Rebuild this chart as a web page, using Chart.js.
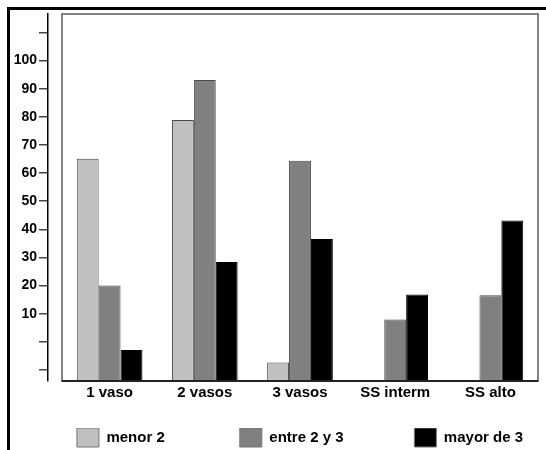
<!DOCTYPE html>
<html>
<head>
<meta charset="utf-8">
<script src="https://cdn.jsdelivr.net/npm/chart.js@4.4.0/dist/chart.umd.min.js"></script>
<style>
  html, body { margin: 0; padding: 0; background: #fff; }
  #wrap { position: relative; width: 546px; height: 450px; }
  #chart { display: block; }
  #frame {
    position: absolute; left: 7px; top: 7px; right: 0; bottom: 0;
    border-left: 3px solid #000; border-top: 3px solid #000;
    pointer-events: none;
  }
</style>
</head>
<body>
<div id="wrap">
  <canvas id="chart" width="546" height="450"></canvas>
  <div id="frame"></div>
</div>
<script>
/* global Chart */
// bar heights, measured from the baseline of the plot box
const categories = ["1 vaso", "2 vasos", "3 vasos", "SS interm", "SS alto"];
const seriesNames = ["menor 2", "entre 2 y 3", "mayor de 3"];
const menor2 = [79, 92.8, 6.6, null, null];
const entre2y3 = [34, 107, 78.3, 21.9, 30.5];
const mayor3 = [11, 42.3, 50.5, 30.8, 57.1];

// the left axis is drawn on its own, slightly off the bars
const tickValues = [-10, 0, 10, 20, 30, 40, 50, 60, 70, 80, 90, 100, 110];
const tickLabels = ["", "", "10", "20", "30", "40", "50", "60", "70", "80", "90", "100", ""];

const colors = ["#c0c0c0", "#808080", "#000000"];
const legendPad = [18, 17, 0]; // extra spaces after each legend text

const boldFont = (size) => ({ family: "'Liberation Sans', Arial, sans-serif", size: size, weight: "bold" });

const plotFrame = {
  id: "plotFrame",
  afterDatasetsDraw(chart) {
    const { ctx, chartArea: a } = chart;
    ctx.save();
    ctx.strokeStyle = "#808080";
    ctx.lineWidth = 2;
    ctx.strokeRect(a.left, a.top, a.right - a.left, a.bottom - a.top);
    ctx.strokeStyle = "#222";
    ctx.beginPath();
    ctx.moveTo(a.left, a.bottom);
    ctx.lineTo(a.right, a.bottom);
    ctx.stroke();
    ctx.restore();
  },
};

const datasets = [menor2, entre2y3, mayor3].map((values, i) => ({
  label: seriesNames[i],
  data: values,
  yAxisID: "y",
  backgroundColor: colors[i],
  borderColor: i === 2 ? "#000" : "#4a4a4a",
  borderWidth: 1,
  barPercentage: 1.0,
  categoryPercentage: 0.69,
}));

new Chart(document.getElementById("chart"), {
  type: "bar",
  data: { labels: categories, datasets: datasets },
  plugins: [plotFrame],
  options: {
    responsive: false,
    animation: false,
    devicePixelRatio: 1,
    layout: { padding: { top: 14, right: 8, left: 0, bottom: -7 } },
    scales: {
      x: {
        grid: { display: false, drawTicks: false },
        border: { display: false },
        ticks: { color: "#000", font: boldFont(15), padding: 3 },
        afterFit: (scale) => { scale.height = 47; },
      },
      y: {
        position: "left",
        weight: 0,
        min: 0,
        max: 130.5,
        grid: { display: false, drawTicks: false },
        border: { display: false },
        ticks: { display: false },
        afterFit: (scale) => { scale.width = 14; },
      },
      yTicks: {
        position: "left",
        weight: 1,
        min: -13.92,
        max: 116.54,
        afterBuildTicks: (scale) => {
          scale.ticks = tickValues.map((v) => ({ value: v }));
        },
        grid: {
          drawOnChartArea: false,
          drawTicks: true,
          tickLength: 9,
          color: "#444",
          lineWidth: 1.5,
        },
        border: { display: true, color: "#000", width: 1.5 },
        ticks: {
          color: "#000",
          font: boldFont(14),
          padding: 2,
          autoSkip: false,
          callback: (value) => tickLabels[tickValues.indexOf(value)],
        },
        afterFit: (scale) => { scale.width = 48; },
      },
    },
    plugins: {
      legend: {
        position: "bottom",
        fullSize: false,
        labels: {
          color: "#000",
          font: boldFont(15),
          boxWidth: 22,
          boxHeight: 19,
          padding: 0,
          generateLabels: (chart) =>
            Chart.defaults.plugins.legend.labels.generateLabels(chart).map((item, i) => ({
              ...item,
              text: item.text + " ".repeat(legendPad[i]),
              strokeStyle: "#777",
              lineWidth: 1,
            })),
        },
      },
      tooltip: { enabled: false },
    },
  },
});
</script>
</body>
</html>
